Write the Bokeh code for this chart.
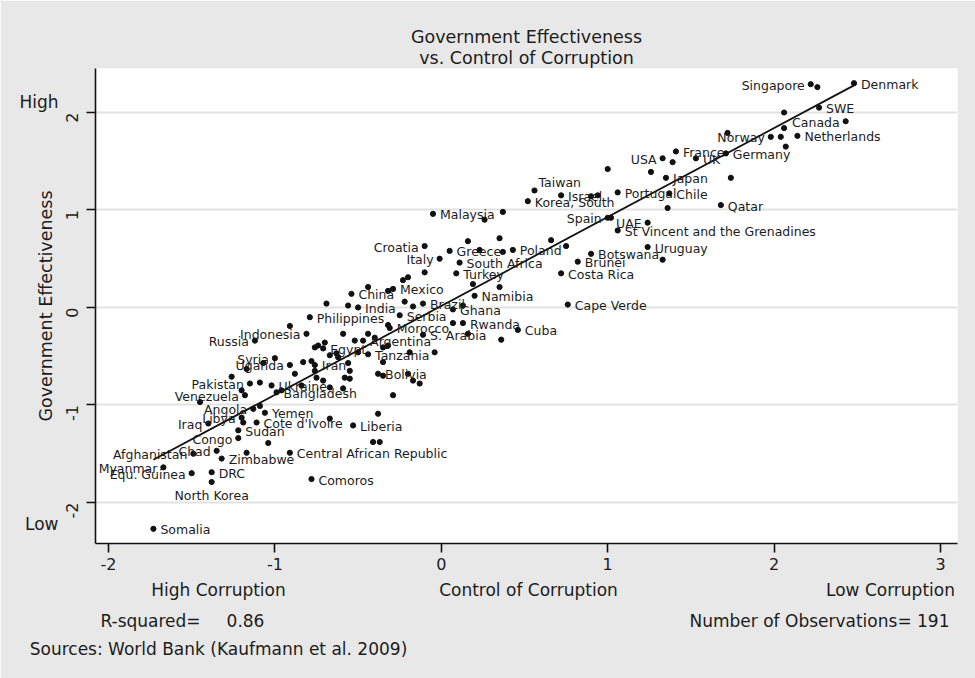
import math
import numpy as np
from bokeh.plotting import figure
from bokeh.models import ColumnDataSource, Range1d, FixedTicker, LinearAxis, Title
from bokeh.embed import file_html
from bokeh.resources import INLINE
from bokeh.core.properties import value

# ---------------- data ----------------
label_names = ["Denmark", "Singapore", "SWE", "Canada", "Netherlands", "Norway", "France", "Germany",
               "UK", "USA", "Japan", "Chile", "Portugal", "Qatar", "Taiwan", "Israel", "Korea, South",
               "Spain", "UAE", "St Vincent and the Grenadines", "Uruguay", "Botswana", "Brunei",
               "Costa Rica", "Cape Verde", "Poland", "Greece", "South Africa", "Italy", "Croatia",
               "Turkey", "Namibia", "Mexico", "Malaysia", "China", "India", "Brazil", "Ghana", "Serbia",
               "Philippines", "Morocco", "Rwanda", "Cuba", "S. Arabia", "Argentina", "Egypt", "Tanzania",
               "Iran", "Bolivia", "Bangladesh", "Ukraine", "Uganda", "Syria", "Russia", "Indonesia",
               "Pakistan", "Venezuela", "Angola", "Libya", "Yemen", "Cote d'Ivoire", "Liberia", "Iraq",
               "Sudan", "Congo", "Chad", "Afghanistan", "Zimbabwe", "Central African Republic",
               "Myanmar", "Equ. Guinea", "DRC", "North Korea", "Comoros", "Somalia"]
label_cc = [2.48, 2.22, 2.27, 2.43, 2.14, 1.98, 1.41, 1.71,
            1.53, 1.33, 1.35, 1.37, 1.06, 1.68, 0.56, 0.72, 0.52,
            1.00, 1.24, 1.06, 1.24, 0.90, 0.82,
            0.72, 0.76, 0.43, 0.05, 0.11, -0.01, -0.10,
            0.09, 0.20, -0.29, -0.05, -0.54, -0.50, -0.11, 0.07, -0.25,
            -0.79, -0.31, 0.13, 0.46, -0.11, -0.47, -0.71, -0.44,
            -0.76, -0.38, -0.99, -1.02, -0.91, -1.00, -1.12, -0.81,
            -1.15, -1.18, -1.13, -1.20, -1.06, -1.11, -0.53, -1.40,
            -1.22, -1.22, -1.35, -1.49, -1.32, -0.91,
            -1.67, -1.50, -1.38, -1.38, -0.78, -1.73]
label_ge = [2.30, 2.29, 2.05, 1.91, 1.76, 1.75, 1.60, 1.58,
            1.53, 1.53, 1.33, 1.17, 1.18, 1.05, 1.20, 1.15, 1.09,
            0.92, 0.87, 0.79, 0.62, 0.55, 0.47,
            0.35, 0.03, 0.59, 0.58, 0.46, 0.50, 0.63,
            0.35, 0.12, 0.19, 0.96, 0.14, 0.00, 0.04, -0.02, -0.08,
            -0.10, -0.21, -0.16, -0.23, -0.28, -0.34, -0.42, -0.48,
            -0.59, -0.68, -0.87, -0.80, -0.59, -0.52, -0.34, -0.27,
            -0.78, -0.90, -1.04, -1.13, -1.08, -1.18, -1.21, -1.19,
            -1.26, -1.34, -1.47, -1.50, -1.55, -1.49,
            -1.64, -1.70, -1.69, -1.79, -1.76, -2.27]
# marker-label clock position (Stata style): 3 right, 9 left, 1 upper right, 6 below
label_clock = [3, 9, 3, 9, 3, 9, 3, 3,
               3, 9, 3, 3, 3, 3, 1, 3, 3,
               9, 9, 3, 3, 3, 3,
               3, 3, 3, 3, 3, 9, 9,
               3, 3, 3, 3, 3, 3, 3, 3, 3,
               3, 3, 3, 3, 3, 3, 3, 3,
               3, 3, 3, 3, 9, 9, 9, 9,
               9, 9, 9, 9, 3, 3, 3, 9,
               3, 9, 9, 9, 3, 3,
               9, 9, 3, 6, 3, 3]

other_cc = [2.26, 2.06, 2.06, 1.72, 2.04, 2.07, 1.39, 1.74, 1.00, 1.26,
            1.36, 0.90, 0.94, 1.02, 1.33, 0.37, 0.26, 0.35, 0.66, 0.75,
            0.16, 0.23, 0.37, -0.10, -0.20, -0.23, 0.19, 0.35, -0.32, -0.44,
            -0.22, -0.17, -0.69, -0.56, 0.13, 0.07, 0.16, 0.36, -0.91, -0.44,
            -0.40, -0.59, -0.74, -0.70, -0.67, -0.62, -0.56, -0.55, -0.58, -0.71,
            -0.67, -0.59, -0.83, -0.75, -0.84, -0.88, -1.07, -1.17, -1.26, -1.09,
            -0.96, -1.20, -1.45, -1.09, -1.19, -1.04, -1.17, -0.67, -0.38, -0.41,
            -0.37, -0.35, -0.20, -0.17, -0.13, -0.29, -0.19, -0.04, -0.35, -0.32,
            -0.32, -0.35, -0.50, -0.52, -0.76, -0.76, -0.55, -0.63, -0.78]
other_ge = [2.26, 2.00, 1.84, 1.79, 1.75, 1.65, 1.49, 1.33, 1.42, 1.39,
            1.02, 1.14, 1.15, 0.92, 0.49, 0.98, 0.90, 0.71, 0.69, 0.63,
            0.68, 0.59, 0.57, 0.36, 0.31, 0.28, 0.24, 0.21, 0.17, 0.21,
            0.06, 0.01, 0.04, 0.02, 0.02, -0.16, -0.27, -0.33, -0.19, -0.27,
            -0.31, -0.27, -0.39, -0.36, -0.49, -0.51, -0.57, -0.65, -0.72, -0.75,
            -0.82, -0.83, -0.56, -0.72, -0.80, -0.68, -0.57, -0.63, -0.71, -0.77,
            -0.85, -0.85, -0.97, -1.01, -1.18, -1.39, -1.49, -1.14, -1.09, -1.38,
            -1.38, -0.70, -0.68, -0.75, -0.78, -0.90, -0.46, -0.46, -0.56, -0.18,
            -0.39, -0.41, -0.46, -0.34, -0.41, -0.65, -0.73, -0.47, -0.55]

x_ticks = [-2, -1, 0, 1, 2, 3]
y_ticks = [-2, -1, 0, 1, 2]
title_lines = ["Government Effectiveness", "vs. Control of Corruption"]
y_title = "Government Effectiveness"
x_row1 = ["High Corruption", "Control of Corruption", "Low Corruption"]
x_row2 = ["R-squared=", "0.86", "Number of Observations= 191"]
x_row3 = ["Sources: World Bank (Kaufmann et al. 2009)"]
y_ends = ["High", "Low"]

# ---------------- figure ----------------
FONT = "DejaVu Sans"
TXT = "#1c1c1c"
BG = "#e8e8e8"

W, H = 975, 678
FL, FR, FT, FB = 95, 18, 68, 135     # frame borders
XR = (-2.078, 3.102)
YR = (-2.421, 2.451)
fw, fh = W - FL - FR, H - FT - FB

def xpos(px):   # horizontal page pixel -> x value (for text placement only)
    return round(XR[0] + (px - FL) / fw * (XR[1] - XR[0]), 4)

def ypos(py):   # vertical page pixel -> y value (for text placement only)
    return round(YR[1] - (py - FT) / fh * (YR[1] - YR[0]), 4)

p = figure(width=W, height=H, output_backend="svg", toolbar_location=None,
           x_range=Range1d(*XR), y_range=Range1d(*YR),
           min_border_left=FL, min_border_right=FR, min_border_top=FT, min_border_bottom=FB,
           background_fill_color="white", border_fill_color=BG, outline_line_color=None)

# titles: p.title is the outer line, the added Title sits next to the frame
p.title.text = title_lines[0]
p.title.align = "center"
p.title.text_font = FONT
p.title.text_font_size = "17.5px"
p.title.text_font_style = "normal"
p.title.text_color = TXT
p.title.standoff = -4
p.add_layout(Title(text=title_lines[1], align="center", text_font=FONT, text_font_size="17.5px",
                   text_font_style="normal", text_color=TXT, standoff=2), "above")

p.xgrid.visible = False
p.ygrid.grid_line_color = "#e2e2e2"
p.ygrid.grid_line_width = 2
p.ygrid.ticker = FixedTicker(ticks=y_ticks)

for ax in (p.xaxis, p.yaxis):
    ax.axis_line_color = "#111111"
    ax.axis_line_width = 1.6
    ax.major_tick_line_color = "#111111"
    ax.major_tick_line_width = 1.6
    ax.major_tick_in = 0
    ax.major_tick_out = 9
    ax.minor_tick_line_color = None
    ax.major_label_text_font = FONT
    ax.major_label_text_font_size = "16px"
    ax.major_label_text_color = TXT

p.xaxis.ticker = FixedTicker(ticks=x_ticks)
p.xaxis.major_label_overrides = {t: str(t) for t in x_ticks}
p.yaxis.ticker = FixedTicker(ticks=y_ticks)
p.yaxis.major_label_overrides = {t: str(t) for t in y_ticks}
p.xaxis.major_label_standoff = 5
p.yaxis.major_label_standoff = 14
p.yaxis.major_label_orientation = math.pi / 2
p.yaxis.axis_label = y_title
p.yaxis.axis_label_text_font = FONT
p.yaxis.axis_label_text_font_size = "17.5px"
p.yaxis.axis_label_text_font_style = "normal"
p.yaxis.axis_label_text_color = TXT
p.yaxis.axis_label_standoff = 2


def text_axis(side, ticks, texts, standoff, size="17px", orientation="horizontal"):
    ax = LinearAxis(ticker=FixedTicker(ticks=ticks),
                    major_label_overrides={t: s for t, s in zip(ticks, texts)},
                    axis_line_color=None, major_tick_line_color=None, minor_tick_line_color=None,
                    major_tick_in=0, major_tick_out=0, minor_tick_in=0, minor_tick_out=0,
                    major_label_standoff=standoff, major_label_orientation=orientation,
                    major_label_text_font=FONT, major_label_text_font_size=size,
                    major_label_text_color=TXT)
    p.add_layout(ax, side)


# bottom text rows (stacked outward from the x axis)
text_axis("below", [xpos(218), xpos(528), xpos(890)], x_row1, 7)
text_axis("below", [xpos(150), xpos(245), xpos(819)], x_row2, 8)
text_axis("below", [xpos(218)], x_row3, 5)
# High / Low markers on the left
text_axis("left", [ypos(101), ypos(524)], y_ends, -26)

# regression line (least squares from the data)
all_x = np.array(label_cc + other_cc)
all_y = np.array(label_ge + other_ge)
b, a = np.polyfit(all_x, all_y, 1)
xl = np.array([all_x.min(), all_x.max()])
p.line(xl, a + b * xl, line_color="#111111", line_width=1.8)

# points
p.scatter(all_x, all_y, size=5.2, marker="circle", fill_color="#111111", line_color="#111111")

# marker labels
offsets = {3: (7, 1, "left"), 9: (-6, 1, "right"), 1: (4, -8, "left"), 6: (0, 14, "center")}
for clock, (xo, yo, al) in offsets.items():
    idx = [i for i, c in enumerate(label_clock) if c == clock]
    src = ColumnDataSource(dict(x=[label_cc[i] for i in idx], y=[label_ge[i] for i in idx],
                                t=[label_names[i] for i in idx]))
    p.text(x="x", y="y", text="t", source=src, x_offset=xo, y_offset=yo,
           text_align=al, text_baseline="middle", text_font=value(FONT),
           text_font_size="12.5px", text_color=TXT)

open("out.html", "w").write(file_html(p, INLINE))
